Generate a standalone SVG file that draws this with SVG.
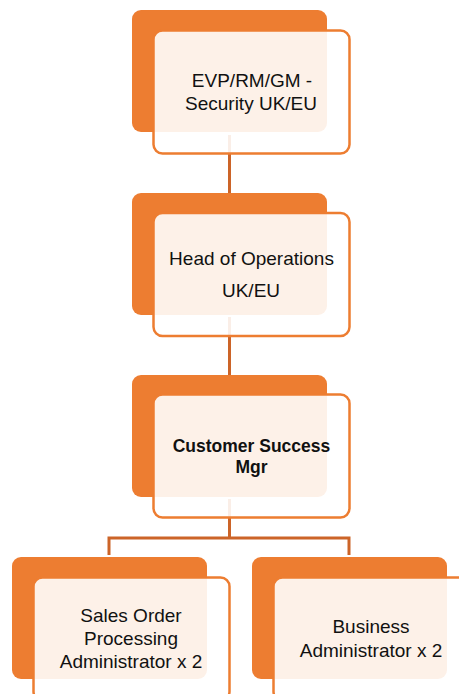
<svg xmlns="http://www.w3.org/2000/svg" width="459" height="694" viewBox="0 0 459 694">
  <style>
    .back { fill: #ED7D31; }
    .front { fill: #FFFFFF; fill-opacity: 0.89; stroke: #ED7D31; stroke-width: 2.5; }
    .link { fill: none; stroke: #CC6428; stroke-width: 3; }
    .label { font-family: "Liberation Sans", Arial, sans-serif; font-size: 19px; fill: #111111; text-anchor: middle; }
    .bold { font-weight: bold; font-size: 17.5px; }
  </style>
  <rect width="459" height="694" fill="#FFFFFF"/>

  <!-- connectors (drawn first so the translucent cards sit on top) -->
  <g id="connectors">
    <line class="link" x1="229.5" y1="135" x2="229.5" y2="193"/>
    <line class="link" x1="229.5" y1="317" x2="229.5" y2="375"/>
    <line class="link" x1="229.5" y1="499" x2="229.5" y2="538"/>
    <polyline class="link" points="109,555 109,538 349,538 349,555"/>
  </g>

  <g id="evp">
    <rect class="back" x="132" y="10" width="195" height="122" rx="9"/>
    <rect class="front" x="153.5" y="30.5" width="196" height="123" rx="9"/>
    <text class="label" x="252" y="87">EVP/RM/GM -</text>
    <text class="label" x="251" y="110">Security UK/EU</text>
  </g>

  <g id="head-ops">
    <rect class="back" x="132" y="193" width="195" height="122" rx="9"/>
    <rect class="front" x="153.5" y="213" width="196" height="123" rx="9"/>
    <text class="label" x="251.5" y="265">Head of Operations</text>
    <text class="label" x="251" y="297">UK/EU</text>
  </g>

  <g id="cs-mgr">
    <rect class="back" x="132" y="375" width="195" height="122" rx="9"/>
    <rect class="front" x="153.5" y="394.5" width="196" height="123" rx="9"/>
    <text class="label bold" x="251.5" y="452">Customer Success</text>
    <text class="label bold" x="251.5" y="473">Mgr</text>
  </g>

  <g id="sales-admin">
    <rect class="back" x="12" y="557" width="195" height="122" rx="9"/>
    <rect class="front" x="33.5" y="577.5" width="196" height="123" rx="9"/>
    <text class="label" x="131" y="622">Sales Order</text>
    <text class="label" x="131" y="645">Processing</text>
    <text class="label" x="131" y="668">Administrator x 2</text>
  </g>

  <g id="business-admin">
    <rect class="back" x="252" y="557" width="195" height="122" rx="9"/>
    <rect class="front" x="273.5" y="577.5" width="196" height="123" rx="9"/>
    <text class="label" x="371" y="633">Business</text>
    <text class="label" x="371" y="657">Administrator x 2</text>
  </g>
</svg>
